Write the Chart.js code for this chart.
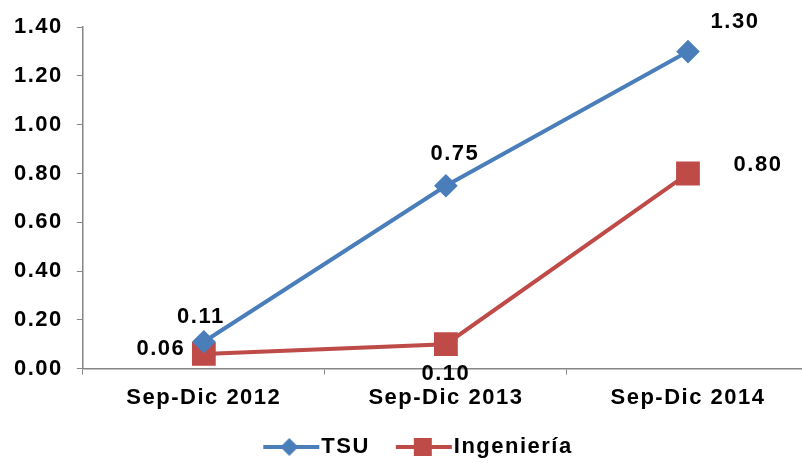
<!DOCTYPE html>
<html>
<head>
<meta charset="utf-8">
<script src="https://cdn.jsdelivr.net/npm/chart.js@4"></script>
<style>
  html, body { margin: 0; padding: 0; background: #fff; overflow: hidden; }
</style>
</head>
<body>
<canvas id="chart" width="840" height="468"></canvas>
<script>
// chart data
const categories = ['Sep-Dic 2012', 'Sep-Dic 2013', 'Sep-Dic 2014'];
const tsuValues = [0.11, 0.75, 1.30];
const ingValues = [0.06, 0.10, 0.80];
const yTicks = [0, 0.2, 0.4, 0.6, 0.8, 1.0, 1.2, 1.4];

const blue = '#4A7EBB';
const red = '#BE4B48';
const font = 'Liberation Sans, Arial, sans-serif';
const spacing = '1.5px';

// where each value label sits relative to its point
const labelShift = [
    [[-3, -25], [9, -32], [47, -30]],
    [[-43, -5], [0, 30], [70, -9]]
];

// legend swatch: line with marker, drawn wide so it lines up with the text
function swatch(color, shape) {
    const c = document.createElement('canvas');
    c.width = 112; c.height = 20;
    const g = c.getContext('2d');
    g.strokeStyle = color;
    g.lineWidth = 4;
    g.beginPath(); g.moveTo(33, 10); g.lineTo(89, 10); g.stroke();
    g.fillStyle = color;
    g.beginPath();
    if (shape === 'diamond') {
        g.moveTo(59, 1); g.lineTo(68, 10); g.lineTo(59, 19); g.lineTo(50, 10);
    } else {
        g.rect(51, 1, 18, 18);
    }
    g.fill();
    return c;
}

// the reference text is drawn a little wide; legend sits a bit right of centre
const tweaks = {
    id: 'tweaks',
    beforeUpdate(chart) { chart.ctx.letterSpacing = spacing; },
    afterLayout(chart) {
        chart.legend.left += 13;
        chart.legend.right += 13;
    },
    beforeDraw(chart) { chart.ctx.letterSpacing = spacing; }
};

const valueLabels = {
    id: 'valueLabels',
    afterDatasetsDraw(chart) {
        const ctx = chart.ctx;
        ctx.save();
        ctx.letterSpacing = spacing;
        ctx.font = 'bold 22px ' + font;
        ctx.fillStyle = '#000';
        ctx.textAlign = 'center';
        ctx.textBaseline = 'middle';
        chart.data.datasets.forEach((ds, i) => {
            chart.getDatasetMeta(i).data.forEach((pt, j) => {
                const s = labelShift[i][j];
                ctx.fillText(ds.data[j].toFixed(2), pt.x + s[0], pt.y + s[1]);
            });
        });
        ctx.restore();
    }
};

const ctx = document.getElementById('chart').getContext('2d');
new Chart(ctx, {
    type: 'line',
    data: {
        labels: categories,
        datasets: [{
            label: 'TSU',
            data: tsuValues,
            borderColor: blue,
            backgroundColor: blue,
            borderWidth: 4,
            pointStyle: 'rectRot',
            pointRadius: 9,
            pointHoverRadius: 9,
            tension: 0
        }, {
            label: 'Ingeniería',
            data: ingValues,
            borderColor: red,
            backgroundColor: red,
            borderWidth: 4,
            pointStyle: 'rect',
            pointRadius: 14,
            pointHoverRadius: 14,
            tension: 0
        }]
    },
    options: {
        responsive: false,
        animation: false,
        layout: { padding: { top: 13, right: 31, left: 0, bottom: 0 } },
        plugins: {
            tooltip: { enabled: false },
            legend: {
                position: 'bottom',
                labels: {
                    usePointStyle: true,
                    pointStyleWidth: 48,
                    padding: 25,
                    color: '#000',
                    font: { family: font, size: 22, weight: 'bold' },
                    generateLabels(chart) {
                        return chart.data.datasets.map((ds, i) => ({
                            text: ds.label,
                            pointStyle: swatch(ds.borderColor, i === 0 ? 'diamond' : 'square'),
                            fillStyle: ds.borderColor,
                            strokeStyle: ds.borderColor,
                            lineWidth: 0,
                            fontColor: '#000',
                            datasetIndex: i
                        }));
                    }
                }
            }
        },
        scales: {
            x: {
                offset: true,
                afterFit(scale) { scale.height -= 10; },
                grid: {
                    offset: true,
                    drawOnChartArea: false,
                    drawTicks: true,
                    tickLength: 6,
                    color: '#868686'
                },
                border: { color: '#868686', width: 1.5 },
                ticks: {
                    color: '#000',
                    padding: 10,
                    font: { family: font, size: 22, weight: 'bold' }
                }
            },
            y: {
                min: 0,
                max: 1.4,
                afterBuildTicks(axis) {
                    axis.ticks = yTicks.map(v => ({ value: v }));
                },
                grid: {
                    drawOnChartArea: false,
                    drawTicks: true,
                    tickLength: 6,
                    color: '#868686'
                },
                border: { color: '#868686', width: 1.5 },
                ticks: {
                    color: '#000',
                    padding: 14,
                    font: { family: font, size: 22, weight: 'bold' },
                    callback: v => v.toFixed(2)
                }
            }
        }
    },
    plugins: [tweaks, valueLabels]
});
</script>
</body>
</html>
